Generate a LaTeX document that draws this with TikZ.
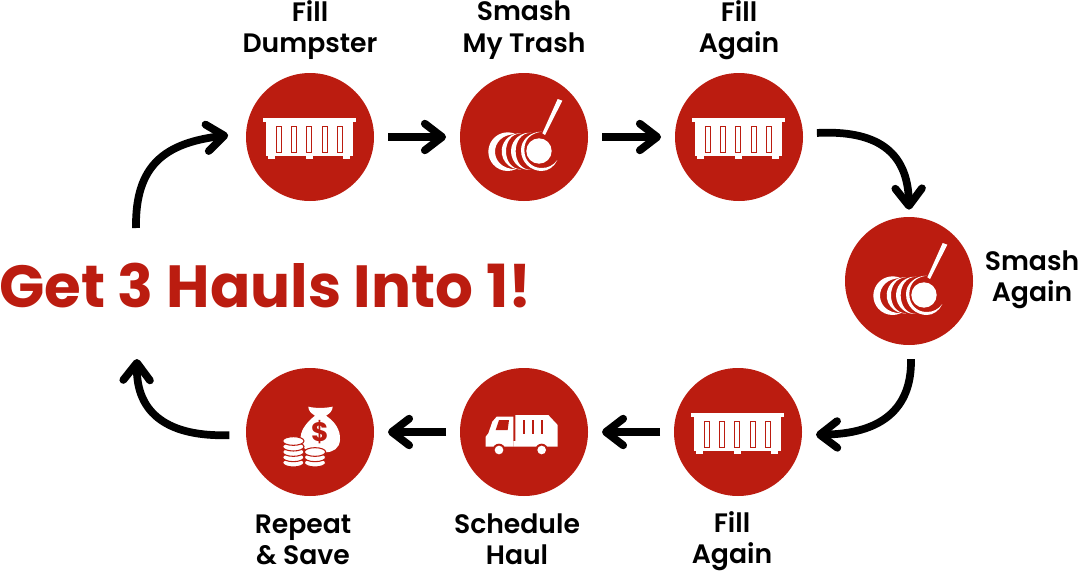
\documentclass[tikz,border=0pt]{standalone}
\usepackage{fontspec}
\setmainfont{Poppins}[UprightFont=* SemiBold,BoldFont=* Bold]
\usetikzlibrary{arrows.meta}
\definecolor{brandred}{HTML}{BB1C10}
% crescent: circle centre (#1,#2), radius #3, thickness #4 at the left, tips at +-#5 degrees
\newcommand{\cresc}[5]{\fill[white] ({#1+#3*cos(#5)},{#2-#3*sin(#5)})
  arc[start angle=-#5,end angle={-360+#5},radius=#3]
  .. controls ({(4*(#1-#3+#4)-(#1+#3*cos(#5)))/3},{#2+#3*sin(#5)})
  and ({(4*(#1-#3+#4)-(#1+#3*cos(#5)))/3},{#2-#3*sin(#5)})
  .. ({#1+#3*cos(#5)},{#2-#3*sin(#5)}) -- cycle;}
\newcommand{\lbl}[2]{\rule{0pt}{15pt}#1\\#2\rule[-3pt]{0pt}{3pt}}
\tikzset{
  badge/.style={circle,fill=brandred,minimum size=96pt,inner sep=0pt,outer sep=0pt},
  steplabel/.style={align=center,font=\fontsize{20}{23.6}\selectfont,text=black,inner sep=0pt},
  headline/.style={font=\bfseries\fontsize{44.6}{50}\selectfont,text=brandred,inner sep=0pt,anchor=west},
  conn/.style={draw=black,line width=5.8pt,-{Straight Barb[round,length=13pt,width=20pt]}},
  icon/.style={x=.25pt,y=-.25pt},
  dumpicon/.pic={
    \begin{scope}[icon]
      \fill[white] (-140,-58) rectangle (138,-44);
      \fill[white] (-133,-44) rectangle (130,56);
      \foreach \fx in {-125,-12,100}{\fill[white] (\fx,56) rectangle ++(20,11);}
      \foreach \sx in {-100,-55,-10,37,82}{
        \draw[brandred,line width=1.2pt] (\sx,-31) rectangle ++(15,78);}
    \end{scope}
  },
  smashicon/.pic={
    \begin{scope}[icon,shift={(-117,-141)}]
      \fill[white] (218,27) -- (232,32) -- (180,135) -- (172,130) -- cycle;
      \cresc{68}{185}{58}{20}{65}
      \cresc{104}{184}{54}{13}{85}
      \cresc{134}{184}{56}{14}{85}
      \fill[white] (170,125) .. controls (135,125) and (108,150) .. (108,180)
        .. controls (108,220) and (140,243) .. (170,243)
        .. controls (190,243) and (208,230) .. (217,210)
        .. controls (205,226) and (190,234) .. (170,234)
        .. controls (140,234) and (118,212) .. (118,180)
        .. controls (118,150) and (135,130) .. (170,125) -- cycle;
      \fill[white] (162,183) circle[radius=38];
    \end{scope}
  },
  truckicon/.pic={
    \begin{scope}[icon,shift={(-207,-201)}]
      \fill[white] (125,155) -- (175,155) -- (175,245) -- (92,245) -- (92,215) -- (100,205) -- (112,170) -- cycle;
      \fill[white] (181,150) -- (280,150) -- (308,180) -- (308,245) -- (175,245) -- (175,228) -- (181,228) -- cycle;
      \fill[brandred] (132,165) -- (162,165) -- (158,195) -- (122,195) -- cycle;
      \foreach \sx in {207,233,260}{\fill[brandred] (\sx-3,165) rectangle (\sx+3,208);}
      \foreach \wx in {132,260}{
        \fill[brandred] (\wx,255) circle[radius=19];
        \fill[white] (\wx,255) circle[radius=13];}
    \end{scope}
  },
  moneyicon/.pic={
    \begin{scope}[icon,shift={(-210,-201)}]
      \fill[white] (205,125) .. controls (225,130) and (255,130) .. (278,125)
        .. controls (278,138) and (268,146) .. (258,152)
        .. controls (285,170) and (302,195) .. (300,225)
        .. controls (298,250) and (280,262) .. (255,262)
        -- (225,262) .. controls (195,262) and (180,240) .. (182,215)
        .. controls (184,190) and (205,168) .. (225,152)
        .. controls (215,146) and (205,138) .. (205,125) -- cycle;
      \node[text=brandred,inner sep=0pt,font=\bfseries\fontsize{20}{20}\selectfont] (dollar) at (240,200) {\$};
      \foreach \cy in {293,277,261}{
        \filldraw[fill=white,draw=brandred,line width=.8pt] (225,\cy) ellipse[x radius=32,y radius=13];}
      \foreach \cy in {293,277,261,245,228}{
        \filldraw[fill=white,draw=brandred,line width=.8pt] (160,\cy) ellipse[x radius=32,y radius=13];}
    \end{scope}
  }
}
\begin{document}
\begin{tikzpicture}[x=.75pt,y=-.75pt]
\useasboundingbox (0,0) rectangle (1078,571);
% step badges
\node[badge] (c1) at (310,137) {};
\node[badge] (c2) at (524,137) {};
\node[badge] (c3) at (739,137) {};
\node[badge] (c4) at (909,281) {};
\node[badge] (c5) at (738,432) {};
\node[badge] (c6) at (524,432) {};
\node[badge] (c7) at (310,432) {};
% icons
\pic at (c1) {dumpicon};
\pic at (c2) {smashicon};
\pic at (c3) {dumpicon};
\pic at (c4) {smashicon};
\pic at (c5) {dumpicon};
\pic at (c6) {truckicon};
\pic at (c7) {moneyicon};
% labels
\node[steplabel] (l1) at (310,30) {\lbl{Fill}{Dumpster}};
\node[steplabel] (l2) at (524,30) {\lbl{Smash}{My Trash}};
\node[steplabel] (l3) at (739,30) {\lbl{Fill}{Again}};
\node[steplabel] (l4) at (1032,279.5) {\lbl{Smash}{Again}};
\node[steplabel] (l5) at (732,541) {\lbl{Fill}{Again}};
\node[steplabel] (l6) at (517,541) {\lbl{Schedule}{Haul}};
\node[steplabel] (l7) at (303,541) {\lbl{Repeat}{\& Save}};
\node[headline] (title) at (-1,286) {Get 3 Hauls Into 1!};
% free ends on the title side
\coordinate (titleup) at (136,228);
\coordinate (titledown) at (137,359);
% connectors
\draw[conn,shorten >=10.5pt,shorten <=10.5pt,yshift=1.5pt] (c1.east) -- (c2.west);
\draw[conn,shorten >=10.5pt,shorten <=10.5pt,yshift=1.5pt] (c2.east) -- (c3.west);
\draw[conn,shorten <=10.5pt] (c3.3) .. controls (875,130) and (908,150) .. ([yshift=5.5pt]c4.north);
\draw[conn] ([xshift=1.5pt,yshift=-10.5pt]c4.south) .. controls (912,410) and (880,434) .. ([xshift=10.5pt,yshift=-2pt]c5.east);
\draw[conn,shorten >=10.5pt,shorten <=10.5pt] (c5.west) -- (c6.east);
\draw[conn,shorten >=10.5pt,shorten <=10.5pt] (c6.west) -- (c7.east);
\draw[conn,shorten <=12.5pt] ([yshift=-2pt]c7.west) .. controls (170,437) and (136,415) .. (titledown);
\draw[conn,shorten >=13.5pt] (titleup) .. controls (135,165) and (165,143) .. ([yshift=3pt]c1.west);
\end{tikzpicture}
\end{document}
